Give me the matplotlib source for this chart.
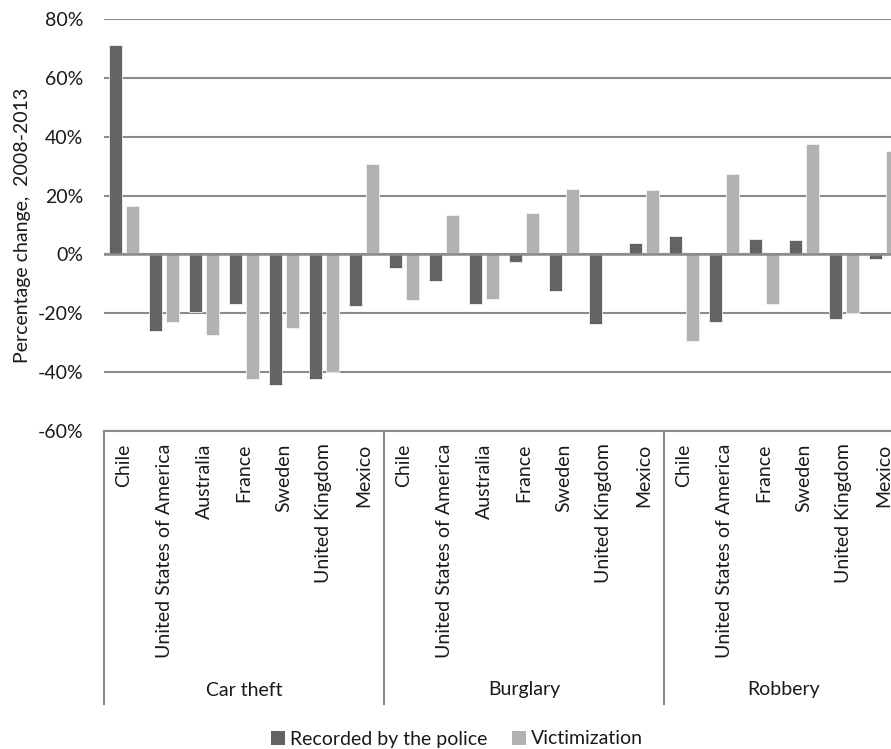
import numpy as np
import matplotlib
matplotlib.use("Agg")
from matplotlib import pyplot as plt
from matplotlib import transforms as mtransforms
from matplotlib.patches import Patch

# chart values (percentage change 2008-2013)
groups = ["Car theft", "Burglary", "Robbery"]
car_countries = ["Chile", "United States of America", "Australia", "France",
                 "Sweden", "United Kingdom", "Mexico"]
burglary_countries = ["Chile", "United States of America", "Australia", "France",
                      "Sweden", "United Kingdom", "Mexico"]
robbery_countries = ["Chile", "United States of America", "France", "Sweden",
                     "United Kingdom", "Mexico"]

car_police = [71.1, -26.0, -19.6, -17.0, -44.4, -42.3, -17.4]
car_victim = [16.4, -22.9, -27.4, -42.3, -25.1, -40.1, 30.7]
burglary_police = [-4.5, -9.1, -17.0, -2.5, -12.5, -23.7, 3.9]
burglary_victim = [-15.5, 13.3, -15.3, 14.1, 22.1, np.nan, 21.8]
robbery_police = [6.2, -23.1, 5.4, 4.9, -22.0, -1.4]
robbery_victim = [-29.3, 27.2, -16.9, 37.4, -20.0, 35.1]

y_ticks = [-60, -40, -20, 0, 20, 40, 60, 80]

countries = car_countries + burglary_countries + robbery_countries
police = car_police + burglary_police + robbery_police
victim = car_victim + burglary_victim + robbery_victim
group_sizes = [len(car_countries), len(burglary_countries), len(robbery_countries)]

DARK = "#636363"
LIGHT = "#b2b2b2"
GRID = "#8a8a8a"
TEXT = "#1a1a1a"
FONT = "Lato"

plt.rcParams["font.family"] = [FONT, "DejaVu Sans"]

W, H = 891, 749
fig = plt.figure(figsize=(W / 100, H / 100), dpi=100)
ax_left, ax_right, ax_top, ax_bottom = 104, 904, 19, 431
ax = fig.add_axes([ax_left / W, 1 - ax_bottom / H,
                   (ax_right - ax_left) / W, (ax_bottom - ax_top) / H])

x = np.arange(len(countries))
bw = 0.33
ax.bar(x - 0.21, police, bw, color=DARK, edgecolor="#f2f2f2", linewidth=0.6, zorder=3)
ax.bar(x + 0.21, victim, bw, color=LIGHT, edgecolor="#f2f2f2", linewidth=0.6, zorder=3)

ax.set_xlim(-0.5, len(countries) - 0.5)
ax.set_ylim(y_ticks[0], y_ticks[-1])
ax.set_yticks(y_ticks)
ax.set_yticklabels([f"{t}%" for t in y_ticks], fontsize=14, color=TEXT)
ax.yaxis.grid(True, color=GRID, linewidth=1.5, zorder=0)
ax.axhline(0, color=GRID, linewidth=1.8, zorder=4)
ax.tick_params(axis="y", length=0, pad=15)

ax.set_xticks(x)
ax.set_xticklabels(countries, rotation=90, fontsize=14, color=TEXT)
ax.tick_params(axis="x", length=0, pad=9)

for s in ["top", "right", "left"]:
    ax.spines[s].set_visible(False)
ax.spines["bottom"].set_color(GRID)
ax.spines["bottom"].set_linewidth(1.5)

ax.set_ylabel("Percentage change,  2008-2013", fontsize=14, color=TEXT)
ax.yaxis.set_label_coords((31 - ax_left) / (ax_right - ax_left), 0.5)

# group separators and labels below the country names
trans = mtransforms.blended_transform_factory(ax.transData, ax.transAxes)
sep_bottom = (ax_bottom - 704) / (ax_bottom - ax_top)
label_y = (ax_bottom - 690) / (ax_bottom - ax_top)
start = 0
bounds = [-0.5]
for g, n in zip(groups, group_sizes):
    end = start + n
    bounds.append(end - 0.5)
    ax.text((start + end - 1) / 2, label_y, g, transform=trans, ha="center",
            va="center", fontsize=14, color=TEXT)
    start = end
for b in bounds:
    ax.plot([b, b], [0, sep_bottom], transform=trans, color=GRID,
            linewidth=1.5, clip_on=False)

handles = [Patch(facecolor=DARK, edgecolor="none"), Patch(facecolor=LIGHT, edgecolor="none")]
fig.legend(handles, ["Recorded by the police", "Victimization"], loc="center",
           bbox_to_anchor=(457 / W, 1 - 739 / H), ncol=2, frameon=False,
           fontsize=14, handlelength=0.7, handleheight=0.7, handletextpad=0.25,
           columnspacing=1.3, labelcolor=TEXT)

fig.savefig("out.png", dpi=100)
